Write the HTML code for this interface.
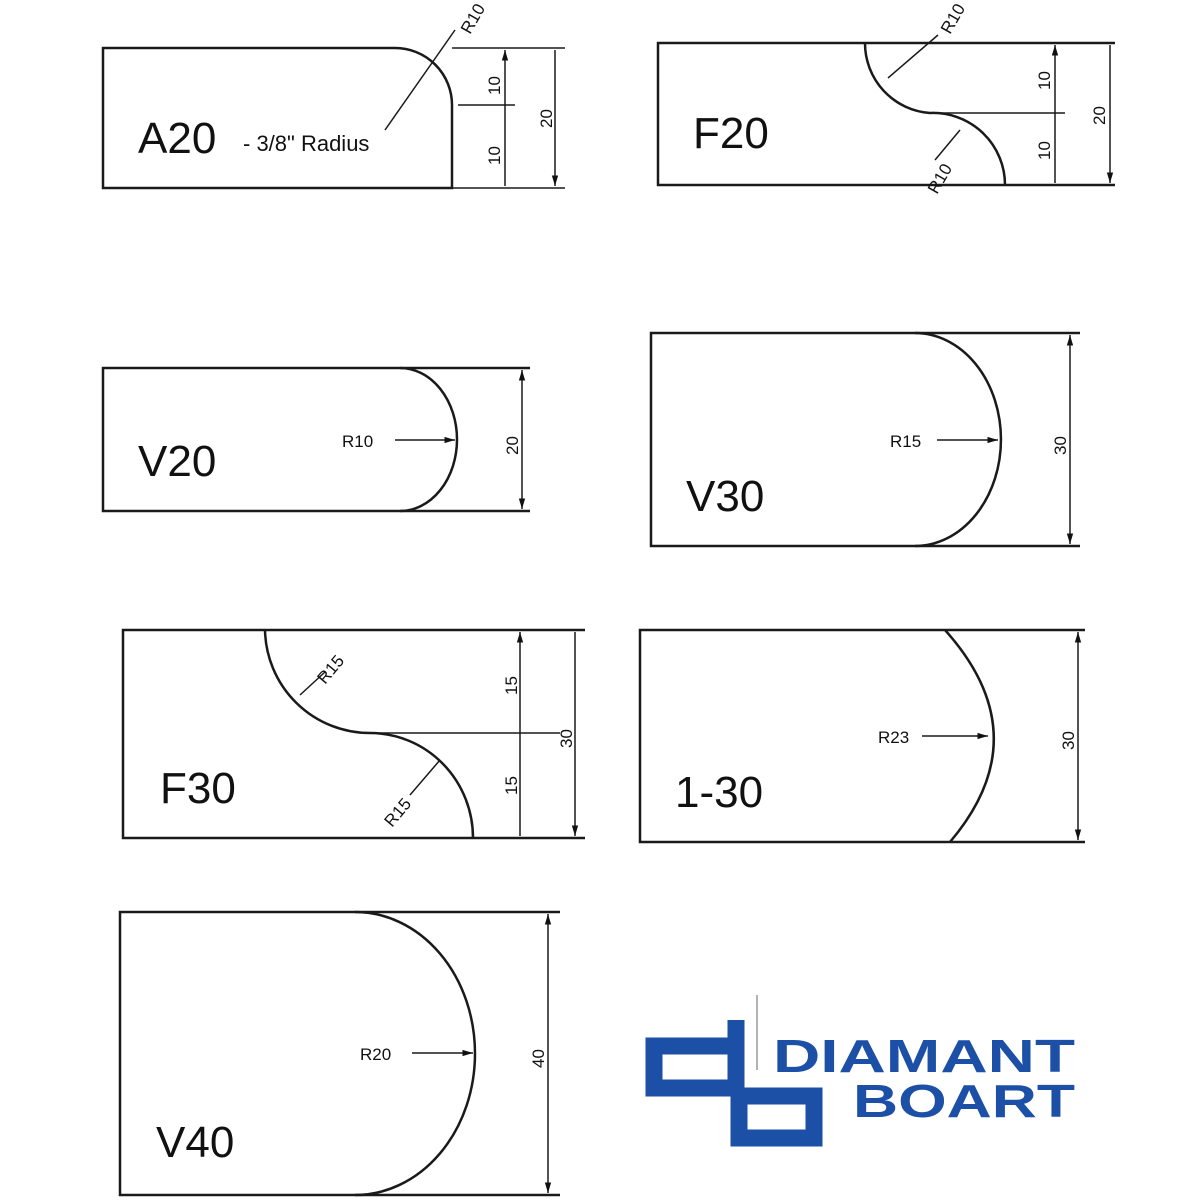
<!DOCTYPE html>
<html><head><style>html,body{margin:0;padding:0;background:#fff}svg{display:block}</style></head>
<body>
<svg width="1200" height="1200" viewBox="0 0 1200 1200" xmlns="http://www.w3.org/2000/svg" font-family="Liberation Sans, sans-serif">
<defs>
<marker id="a" viewBox="0 0 10 10" refX="10" refY="5" markerWidth="7" markerHeight="7" orient="auto-start-reverse"><path d="M0,2 L10,5 L0,8z" fill="#111"/></marker>
</defs>
<g stroke="#1a1a1a" fill="none" stroke-width="2.5">
<!-- A20 -->
<path d="M103,48 H395 A57,57 0 0 1 452,105 V188 H103 Z"/>
<path d="M452,48 H565 M452,188 H565 M458,105 H515" stroke-width="1.5"/>
<path d="M505,50 V186 M555,50 V186" stroke-width="1.5" marker-start="url(#a)" marker-end="url(#a)"/>
<path d="M385,130 L455,30" stroke-width="1.5"/>
</g>
<g fill="#111">
<text x="138" y="153" font-size="44">A20</text>
<text x="243" y="151" font-size="22">- 3/8" Radius</text>
<text transform="translate(470,35) rotate(-60)" font-size="17">R10</text>
<text transform="translate(500,95) rotate(-90)" font-size="17">10</text>
<text transform="translate(500,165) rotate(-90)" font-size="17">10</text>
<text transform="translate(552,128) rotate(-90)" font-size="17">20</text>
</g>
<!-- F20 -->
<g stroke="#1a1a1a" fill="none" stroke-width="2.5">
<path d="M1115,43 H658 V185 H1115"/>
<path d="M865,43 A70,70 0 0 0 930,113 A72,72 0 0 1 1005,185"/>
<path d="M930,113 H1065" stroke-width="1.5"/>
<path d="M1055,45 V183 M1110,45 V183" stroke-width="1.5" marker-start="url(#a)" marker-end="url(#a)"/>
<path d="M888,78 L938,35 M960,130 L935,160" stroke-width="1.5"/>
</g>
<g fill="#111">
<text x="693" y="148" font-size="44">F20</text>
<text transform="translate(950,35) rotate(-60)" font-size="17">R10</text>
<text transform="translate(937,195) rotate(-60)" font-size="17">R10</text>
<text transform="translate(1050,90) rotate(-90)" font-size="17">10</text>
<text transform="translate(1050,160) rotate(-90)" font-size="17">10</text>
<text transform="translate(1105,125) rotate(-90)" font-size="17">20</text>
</g>
<!-- V20 -->
<g stroke="#1a1a1a" fill="none" stroke-width="2.5">
<path d="M530,368 H103 V511 H530"/>
<path d="M400,368 A57,71.5 0 0 1 400,511"/>
<path d="M522,370 V509" stroke-width="1.5" marker-start="url(#a)" marker-end="url(#a)"/>
<path d="M395,440 H455" stroke-width="1.5" marker-end="url(#a)"/>
</g>
<g fill="#111">
<text x="138" y="476" font-size="44">V20</text>
<text x="342" y="447" font-size="17">R10</text>
<text transform="translate(518,455) rotate(-90)" font-size="17">20</text>
</g>
<!-- V30 -->
<g stroke="#1a1a1a" fill="none" stroke-width="2.5">
<path d="M1080,333 H651 V546 H1080"/>
<path d="M915,333 A86,106.5 0 0 1 915,546"/>
<path d="M1070,335 V544" stroke-width="1.5" marker-start="url(#a)" marker-end="url(#a)"/>
<path d="M937,440 H998" stroke-width="1.5" marker-end="url(#a)"/>
</g>
<g fill="#111">
<text x="686" y="511" font-size="44">V30</text>
<text x="890" y="447" font-size="17">R15</text>
<text transform="translate(1066,455) rotate(-90)" font-size="17">30</text>
</g>
<!-- F30 -->
<g stroke="#1a1a1a" fill="none" stroke-width="2.5">
<path d="M585,630 H123 V838 H585"/>
<path d="M265,630 A105,105 0 0 0 370,733 A103,105 0 0 1 473,838"/>
<path d="M370,733 H560" stroke-width="1.5"/>
<path d="M520,632 V836 M575,632 V836" stroke-width="1.5" marker-start="url(#a)" marker-end="url(#a)"/>
<path d="M300,695 L325,672 M440,760 L410,795" stroke-width="1.5"/>
</g>
<g fill="#111">
<text x="160" y="803" font-size="44">F30</text>
<text transform="translate(325,685) rotate(-50)" font-size="17">R15</text>
<text transform="translate(392,828) rotate(-50)" font-size="17">R15</text>
<text transform="translate(517,695) rotate(-90)" font-size="17">15</text>
<text transform="translate(517,795) rotate(-90)" font-size="17">15</text>
<text transform="translate(572,748) rotate(-90)" font-size="17">30</text>
</g>
<!-- 1-30 -->
<g stroke="#1a1a1a" fill="none" stroke-width="2.5">
<path d="M1085,630 H640 V842 H1085"/>
<path d="M945,630 Q1040,736 950,842"/>
<path d="M1078,632 V840" stroke-width="1.5" marker-start="url(#a)" marker-end="url(#a)"/>
<path d="M922,736 H988" stroke-width="1.5" marker-end="url(#a)"/>
</g>
<g fill="#111">
<text x="675" y="807" font-size="44">1-30</text>
<text x="878" y="743" font-size="17">R23</text>
<text transform="translate(1074,750) rotate(-90)" font-size="17">30</text>
</g>
<!-- V40 -->
<g stroke="#1a1a1a" fill="none" stroke-width="2.5">
<path d="M560,912 H120 V1195 H560"/>
<path d="M355,912 A120,141.5 0 0 1 355,1195"/>
<path d="M548,914 V1193" stroke-width="1.5" marker-start="url(#a)" marker-end="url(#a)"/>
<path d="M412,1053 H473" stroke-width="1.5" marker-end="url(#a)"/>
</g>
<g fill="#111">
<text x="156" y="1157" font-size="44">V40</text>
<text x="360" y="1060" font-size="17">R20</text>
<text transform="translate(544,1068) rotate(-90)" font-size="17">40</text>
</g>
<!-- logo -->
<g stroke="#1c4fa6" stroke-width="17" fill="none" stroke-linejoin="miter">
<path d="M736,1020 V1088 H654 V1046 H736"/>
<path d="M739,1090 V1138 H814 V1096 H739"/>
</g>
<line x1="757" y1="995" x2="757" y2="1070" stroke="#999" stroke-width="1.5"/>
<g fill="#1c4fa6" font-weight="bold" font-size="46">
<text x="773" y="1072" textLength="302" lengthAdjust="spacingAndGlyphs">DIAMANT</text>
<text x="853" y="1117" textLength="222" lengthAdjust="spacingAndGlyphs">BOART</text>
</g>
</svg>
</body></html>
